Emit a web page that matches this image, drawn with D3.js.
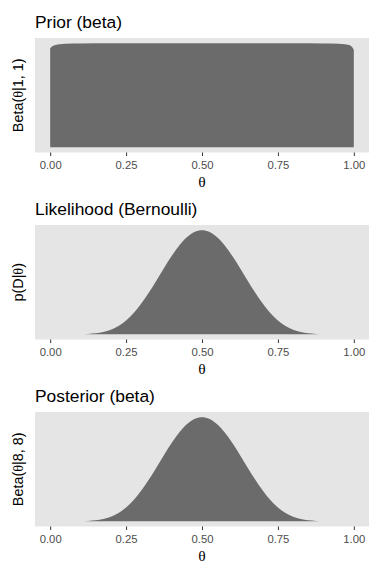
<!DOCTYPE html>
<html>
<head>
<meta charset="utf-8">
<script src="https://cdn.jsdelivr.net/npm/d3@7"></script>
<style>
  body { margin: 0; background: #fff; }
  text { font-family: "Liberation Sans", Arial, Helvetica, sans-serif; }
</style>
</head>
<body>
<div id="chart"></div>
<script>
// theta grid for the prior (finer near the edges where the density rolls off)
const thetaPrior = [0, 0.005, 0.01, 0.02, 0.03, 0.05, 0.1, 0.2, 0.3, 0.4, 0.5,
  0.6, 0.7, 0.8, 0.9, 0.95, 0.97, 0.98, 0.99, 0.995, 1]
const priorValues = [0.95, 0.965, 0.975, 0.985, 0.99, 0.995, 0.998, 1, 1, 1, 1,
  1, 1, 1, 0.998, 0.995, 0.99, 0.985, 0.975, 0.96, 0.935]

// theta grid for likelihood and posterior
const theta = [0, 0.025, 0.05, 0.075, 0.1, 0.125, 0.15, 0.175, 0.2, 0.225, 0.25,
  0.275, 0.3, 0.325, 0.35, 0.375, 0.4, 0.425, 0.45, 0.475, 0.5,
  0.525, 0.55, 0.575, 0.6, 0.625, 0.65, 0.675, 0.7, 0.725, 0.75,
  0.775, 0.8, 0.825, 0.85, 0.875, 0.9, 0.925, 0.95, 0.975, 1]

// relative heights (peak = 1)
const likelihoodValues = [0, 0.00002, 0.0001, 0.0004, 0.0012, 0.0035, 0.009, 0.0214, 0.044, 0.0803, 0.1335,
  0.2052, 0.2951, 0.4006, 0.5168, 0.6365, 0.7514, 0.8527, 0.9321, 0.9826, 1,
  0.9826, 0.9321, 0.8527, 0.7514, 0.6365, 0.5168, 0.4006, 0.2951, 0.2052, 0.1335,
  0.0803, 0.044, 0.0214, 0.009, 0.0035, 0.0012, 0.0004, 0.0001, 0.00002, 0]
const posteriorValues = [0, 0.00002, 0.0001, 0.0004, 0.0012, 0.0035, 0.009, 0.0214, 0.044, 0.0803, 0.1335,
  0.2052, 0.2951, 0.4006, 0.5168, 0.6365, 0.7514, 0.8527, 0.9321, 0.9826, 1,
  0.9826, 0.9321, 0.8527, 0.7514, 0.6365, 0.5168, 0.4006, 0.2951, 0.2052, 0.1335,
  0.0803, 0.044, 0.0214, 0.009, 0.0035, 0.0012, 0.0004, 0.0001, 0.00002, 0]

const xTicks = [0, 0.25, 0.5, 0.75, 1]

const panels = [
  {title: "Prior (beta)", yPre: "Beta(", ySym: "θ", yPost: "|1, 1)", x: thetaPrior, y: priorValues, top: 38},
  {title: "Likelihood (Bernoulli)", yPre: "p(D|", ySym: "θ", yPost: ")", x: theta, y: likelihoodValues, top: 225},
  {title: "Posterior (beta)", yPre: "Beta(", ySym: "θ", yPost: "|8, 8)", x: theta, y: posteriorValues, top: 412}
]

const config = {
  width: 384,
  height: 576,
  panelLeft: 35,
  panelRight: 369,
  panelHeight: 114.5,
  background: "#e5e5e5",
  fill: "#6b6b6b",
  tickColor: "#333333",
  tickText: "#4d4d4d"
}

const svg = d3.select("#chart").append("svg")
  .attr("width", config.width)
  .attr("height", config.height)

const x = d3.scaleLinear()
  .domain([-0.05, 1.05])
  .range([config.panelLeft, config.panelRight])

panels.forEach(p => {
  const bottom = p.top + config.panelHeight
  const maxY = d3.max(p.y)
  const y = d3.scaleLinear()
    .domain([-0.05 * maxY, 1.05 * maxY])
    .range([bottom, p.top])

  const g = svg.append("g")

  g.append("rect")
    .attr("x", config.panelLeft)
    .attr("y", p.top)
    .attr("width", config.panelRight - config.panelLeft)
    .attr("height", config.panelHeight)
    .attr("fill", config.background)

  const pts = p.x.map((t, i) => [t, p.y[i]])
  const area = d3.area()
    .x(d => x(d[0]))
    .y0(y(0))
    .y1(d => y(d[1]))
    .curve(d3.curveMonotoneX)

  g.append("path")
    .datum(pts)
    .attr("d", area)
    .attr("fill", config.fill)

  // x axis
  const axis = g.append("g")
    .attr("transform", `translate(0,${bottom})`)
    .call(d3.axisBottom(x)
      .tickValues(xTicks)
      .tickFormat(d3.format(".2f"))
      .tickSize(3.5)
      .tickPadding(4.5))
  axis.select(".domain").remove()
  axis.selectAll(".tick line")
    .attr("stroke", config.tickColor)
    .attr("stroke-width", 1)
  axis.selectAll(".tick text")
    .attr("fill", config.tickText)
    .style("font-family", "'Liberation Sans', Arial, sans-serif")
    .style("font-size", "11.3px")

  // x title
  g.append("text")
    .attr("x", (config.panelLeft + config.panelRight) / 2)
    .attr("y", bottom + 34)
    .attr("text-anchor", "middle")
    .style("font-family", "'Liberation Serif', 'Times New Roman', serif")
    .style("font-size", "15.5px")
    .attr("fill", "#000")
    .text("θ")

  // y title
  const yl = g.append("text")
    .attr("transform", `translate(23,${p.top + config.panelHeight / 2}) rotate(-90)`)
    .attr("text-anchor", "middle")
    .style("font-size", "14.4px")
    .attr("fill", "#000")
  yl.append("tspan").text(p.yPre)
  yl.append("tspan")
    .style("font-family", "'Liberation Serif', 'Times New Roman', serif")
    .text(p.ySym)
  yl.append("tspan").text(p.yPost)

  // panel title
  g.append("text")
    .attr("x", config.panelLeft)
    .attr("y", p.top - 10)
    .style("font-size", "17.4px")
    .attr("fill", "#000")
    .text(p.title)
})
</script>
</body>
</html>
